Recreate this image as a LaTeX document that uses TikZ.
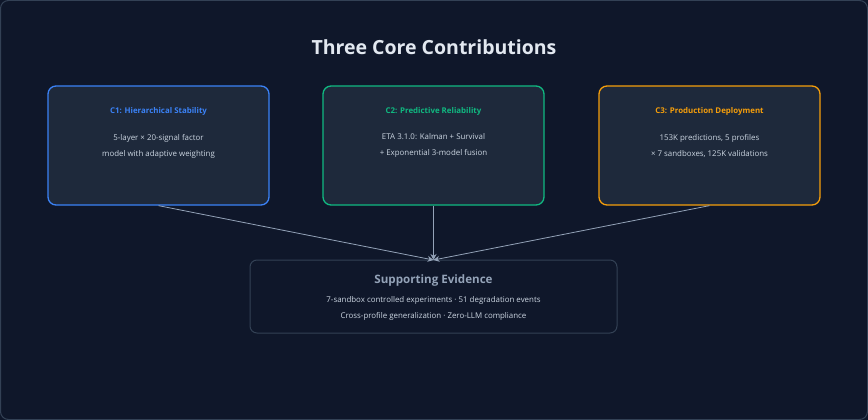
\documentclass[tikz,border=0pt]{standalone}
\usepackage{fontspec}
\setmainfont{Open Sans}
\usetikzlibrary{arrows.meta}
\definecolor{bgc}{HTML}{0F172A}
\definecolor{framec}{HTML}{334155}
\definecolor{boxc}{HTML}{1E293B}
\definecolor{bluec}{HTML}{3B82F6}
\definecolor{greenc}{HTML}{10B981}
\definecolor{amberc}{HTML}{F59E0B}
\definecolor{textc}{HTML}{CBD5E1}
\definecolor{titlec}{HTML}{E2E8F0}
\definecolor{arrc}{HTML}{94A3B8}
\definecolor{evc}{HTML}{94A3B8}
\begin{document}
\begin{tikzpicture}[x=1pt,y=-1pt,
  card/.style={draw, line width=1.3pt, rounded corners=8pt, fill=boxc},
  cardtitle/.style={font=\fontsize{7.9}{9}\selectfont\bfseries, anchor=center},
  cardbody/.style={font=\fontsize{7.9}{16}\selectfont, text=textc, align=center, anchor=center},
  conn/.style={draw=arrc, line width=0.8pt, -{Stealth[length=6pt,width=6pt]}}]
\useasboundingbox (0,0) rectangle (868,420);
\fill[bgc] (0,0) rectangle (868,420);
\draw[framec, line width=1pt, rounded corners=8pt] (0.5,0.5) rectangle (867.5,419.5);
\node[font=\fontsize{19.5}{22}\selectfont\bfseries, text=titlec] (title) at (434,47) {Three Core Contributions};
% cards
\node[card, draw=bluec, minimum width=221pt, minimum height=119pt] (c1) at (158.5,145.5) {};
\node[card, draw=greenc, minimum width=221pt, minimum height=119pt] (c2) at (433.5,145.5) {};
\node[card, draw=amberc, minimum width=221pt, minimum height=119pt] (c3) at (709.5,145.5) {};
\node[cardtitle, text=bluec] (t1) at (158.5,111.5) {C1: Hierarchical Stability};
\node[cardtitle, text=greenc] (t2) at (433.5,111.5) {C2: Predictive Reliability};
\node[cardtitle, text=amberc] (t3) at (709.5,111.5) {C3: Production Deployment};
\node[cardbody] (b1) at (158.5,146.5) {5-layer × 20-signal factor\\model with adaptive weighting};
\node[cardbody] (b2) at (433.5,145.5) {ETA 3.1.0: Kalman + Survival\\+ Exponential 3-model fusion};
\node[cardbody] (b3) at (709.5,145.5) {153K predictions, 5 profiles\\× 7 sandboxes, 125K validations};
% evidence
\node[draw=framec, line width=1pt, rounded corners=7pt, fill=bgc, minimum width=367pt, minimum height=73pt] (ev) at (433.5,296.5) {};
\node[font=\fontsize{11.6}{13}\selectfont\bfseries, text=evc] (evt) at (433.5,280) {Supporting Evidence};
\node[cardbody] (evb) at (433.5,308) {7-sandbox controlled experiments · 51 degradation events\\Cross-profile generalization · Zero-LLM compliance};
% connectors
\coordinate (tip) at (433.5,260);
\draw[conn] (c1.south) -- (tip);
\draw[conn] (c2.south) -- (tip);
\draw[conn] (c3.south) -- (tip);
\end{tikzpicture}
\end{document}
